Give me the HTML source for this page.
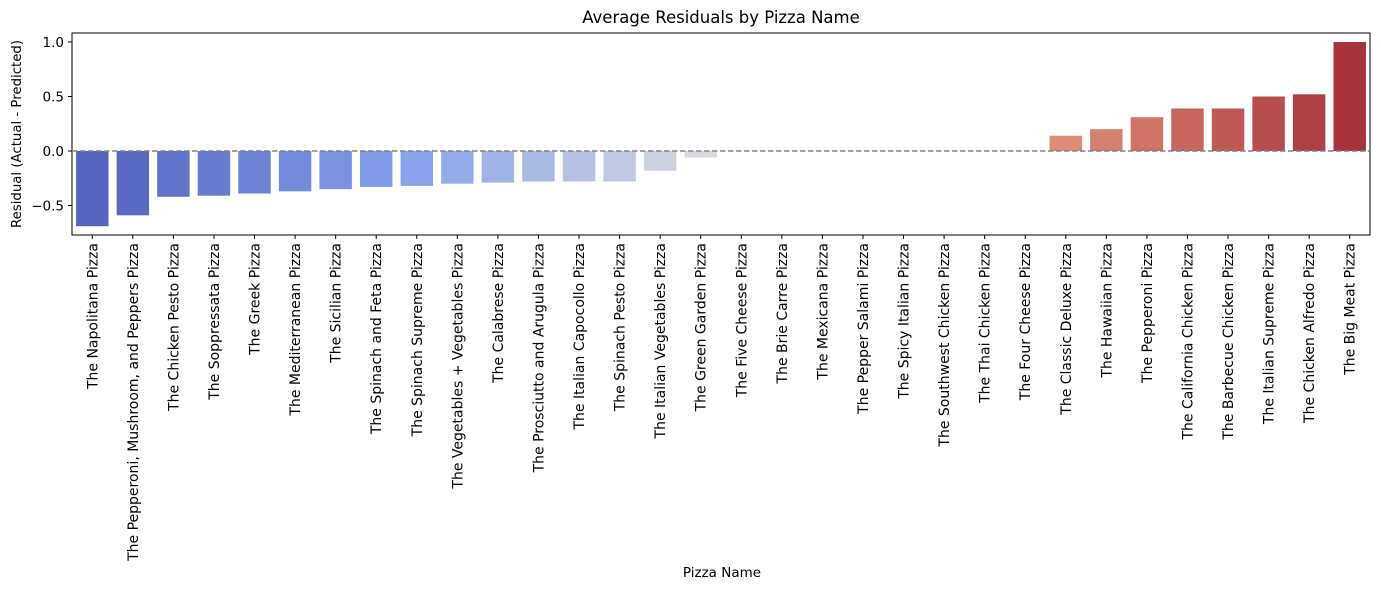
<!DOCTYPE html>
<html><head><meta charset="utf-8"><style>
body{margin:0;background:#fff;font-family:"Liberation Sans","DejaVu Sans",sans-serif}
svg text{font-family:"DejaVu Sans","Liberation Sans",sans-serif;fill:#000}
</style></head><body>
<svg id="c" width="1381" height="590" xmlns="http://www.w3.org/2000/svg">
<text x="721" y="23" font-size="16.5" text-anchor="middle">Average Residuals by Pizza Name</text>
<text x="722" y="577" font-size="13.5" text-anchor="middle">Pizza Name</text>
<text transform="translate(21,134) rotate(-90)" font-size="13.3" text-anchor="middle">Residual (Actual - Predicted)</text>
<g id="bars"></g><g id="ticks"></g>
<rect x="72" y="33" width="1298" height="202" fill="none" stroke="#000" stroke-width="1"/>
</svg>
<script>
const categories=["The Napolitana Pizza","The Pepperoni, Mushroom, and Peppers Pizza","The Chicken Pesto Pizza","The Soppressata Pizza","The Greek Pizza","The Mediterranean Pizza","The Sicilian Pizza","The Spinach and Feta Pizza","The Spinach Supreme Pizza","The Vegetables + Vegetables Pizza","The Calabrese Pizza","The Prosciutto and Arugula Pizza","The Italian Capocollo Pizza","The Spinach Pesto Pizza","The Italian Vegetables Pizza","The Green Garden Pizza","The Five Cheese Pizza","The Brie Carre Pizza","The Mexicana Pizza","The Pepper Salami Pizza","The Spicy Italian Pizza","The Southwest Chicken Pizza","The Thai Chicken Pizza","The Four Cheese Pizza","The Classic Deluxe Pizza","The Hawaiian Pizza","The Pepperoni Pizza","The California Chicken Pizza","The Barbecue Chicken Pizza","The Italian Supreme Pizza","The Chicken Alfredo Pizza","The Big Meat Pizza"];
const residuals=[-0.69,-0.59,-0.42,-0.41,-0.39,-0.37,-0.35,-0.33,-0.32,-0.30,-0.29,-0.28,-0.28,-0.28,-0.18,-0.06,0,0,0,0,0,0,0,0,0.14,0.20,0.31,0.39,0.39,0.50,0.52,1.00];
const yTicks=[-0.5,0.0,0.5,1.0];
const yTickLabels=["−0.5","0.0","0.5","1.0"];
const NS="http://www.w3.org/2000/svg";
const L=72,W=1298,T=33,H=202;
const y=v=>151-v*109;
const step=W/categories.length;
const x=i=>L+step*(i+0.5);
const stops=[[0,[84,99,190]],[0.25,[135,160,235]],[0.5,[221,221,221]],[0.75,[228,150,125]],[1,[168,51,62]]];
function col(t){for(let k=0;k<stops.length-1;k++){const[a,ca]=stops[k],[b,cb]=stops[k+1];if(t<=b){const f=(t-a)/(b-a);return`rgb(${ca.map((c,j)=>Math.round(c+(cb[j]-c)*f)).join(',')})`;}}return'rgb(168,51,62)';}
function mk(tag,at,parent){const e=document.createElementNS(NS,tag);for(const k in at)e.setAttribute(k,at[k]);parent.appendChild(e);return e;}
const bars=document.getElementById('bars'),ticks=document.getElementById('ticks'),svg=document.getElementById('c');
categories.forEach((c,i)=>{
const v=residuals[i],bw=step*0.8;
const r=mk('rect',{x:x(i)-bw/2,y:Math.min(y(v),y(0)),width:bw,height:Math.abs(y(v)-y(0)),fill:col(i/(categories.length-1))},bars);


mk('line',{x1:x(i),x2:x(i),y1:235,y2:239,stroke:'#000'},ticks);
const t=mk('text',{transform:`translate(${x(i)+5},243) rotate(-90)`,'font-size':14,'text-anchor':'end'},ticks);
t.textContent=c;


});
yTicks.forEach((v,i)=>{
mk('line',{x1:68,x2:72,y1:y(v),y2:y(v),stroke:'#000'},ticks);
const t=mk('text',{x:64,y:y(v)+5,'font-size':13.5,'text-anchor':'end'},ticks);
t.textContent=yTickLabels[i];


});
const zl=mk('line',{x1:L,x2:L+W,y1:y(0),y2:y(0),stroke:'#808080','stroke-width':1.5,'stroke-dasharray':'5.5,2.5'},svg);


</script>
</body></html>
